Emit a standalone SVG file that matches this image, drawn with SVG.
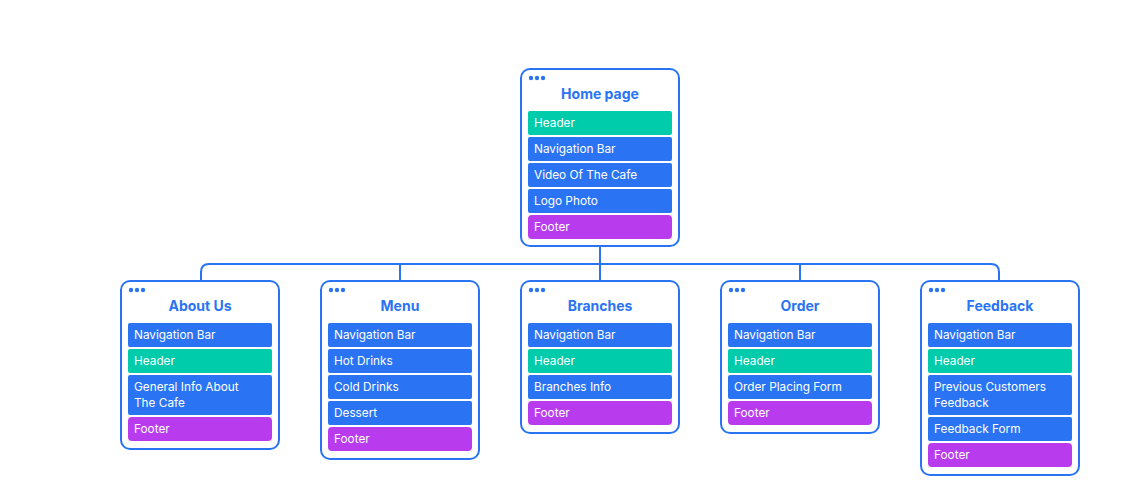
<svg xmlns="http://www.w3.org/2000/svg" width="1136" height="487" viewBox="0 0 1136 487">
<style>
.box{fill:#fff;stroke:#2a74f3;stroke-width:2}
.dot{fill:#2a74f3}
.title{font-family:Inter,"Liberation Sans",sans-serif;font-weight:700;font-size:14px;fill:#2a74f3;text-anchor:middle}
.it{font-family:Inter,"Liberation Sans",sans-serif;font-size:11.8px;fill:#fff}
.b{fill:#2a74f3}
.g{fill:#00cbab}
.p{fill:#b83cee}
.con{fill:none;stroke:#2a74f3;stroke-width:2}
</style>
<defs>
<g id="dots"><circle cx="0" cy="0" r="2.2" class="dot"/><circle cx="6" cy="0" r="2.2" class="dot"/><circle cx="12" cy="0" r="2.2" class="dot"/></g>
</defs>
<g id="connectors">
<path class="con" d="M600 247 V264"/>
<path class="con" d="M201 281 V272 Q201 264 209 264 H991 Q999 264 999 272 V281"/>
<path class="con" d="M400 264 V281"/>
<path class="con" d="M600 264 V281"/>
<path class="con" d="M800 264 V281"/>
</g>
<g id="home">
<rect class="box" x="521" y="69" width="158" height="177" rx="9"/>
<use href="#dots" x="531" y="78"/>
<text class="title" x="600" y="99">Home page</text>
<rect class="g" x="528" y="111" width="144" height="24" rx="2"/><text class="it" x="534" y="127">Header</text>
<rect class="b" x="528" y="137" width="144" height="24" rx="2"/><text class="it" x="534" y="153">Navigation Bar</text>
<rect class="b" x="528" y="163" width="144" height="24" rx="2"/><text class="it" x="534" y="179">Video Of The Cafe</text>
<rect class="b" x="528" y="189" width="144" height="24" rx="2"/><text class="it" x="534" y="205">Logo Photo</text>
<rect class="p" x="528" y="215" width="144" height="24" rx="4"/><text class="it" x="534" y="231">Footer</text>
</g>
<g id="about">
<rect class="box" x="121" y="281" width="158" height="168" rx="9"/>
<use href="#dots" x="131" y="290"/>
<text class="title" x="200" y="311">About Us</text>
<rect class="b" x="128" y="323" width="144" height="24" rx="2"/><text class="it" x="134" y="339">Navigation Bar</text>
<rect class="g" x="128" y="349" width="144" height="24" rx="2"/><text class="it" x="134" y="365">Header</text>
<rect class="b" x="128" y="375" width="144" height="40" rx="2"/><text class="it" x="134" y="391">General Info About</text><text class="it" x="134" y="407">The Cafe</text>
<rect class="p" x="128" y="417" width="144" height="24" rx="4"/><text class="it" x="134" y="433">Footer</text>
</g>
<g id="menu">
<rect class="box" x="321" y="281" width="158" height="178" rx="9"/>
<use href="#dots" x="331" y="290"/>
<text class="title" x="400" y="311">Menu</text>
<rect class="b" x="328" y="323" width="144" height="24" rx="2"/><text class="it" x="334" y="339">Navigation Bar</text>
<rect class="b" x="328" y="349" width="144" height="24" rx="2"/><text class="it" x="334" y="365">Hot Drinks</text>
<rect class="b" x="328" y="375" width="144" height="24" rx="2"/><text class="it" x="334" y="391">Cold Drinks</text>
<rect class="b" x="328" y="401" width="144" height="24" rx="2"/><text class="it" x="334" y="417">Dessert</text>
<rect class="p" x="328" y="427" width="144" height="24" rx="4"/><text class="it" x="334" y="443">Footer</text>
</g>
<g id="branches">
<rect class="box" x="521" y="281" width="158" height="152" rx="9"/>
<use href="#dots" x="531" y="290"/>
<text class="title" x="600" y="311">Branches</text>
<rect class="b" x="528" y="323" width="144" height="24" rx="2"/><text class="it" x="534" y="339">Navigation Bar</text>
<rect class="g" x="528" y="349" width="144" height="24" rx="2"/><text class="it" x="534" y="365">Header</text>
<rect class="b" x="528" y="375" width="144" height="24" rx="2"/><text class="it" x="534" y="391">Branches Info</text>
<rect class="p" x="528" y="401" width="144" height="24" rx="4"/><text class="it" x="534" y="417">Footer</text>
</g>
<g id="order">
<rect class="box" x="721" y="281" width="158" height="152" rx="9"/>
<use href="#dots" x="731" y="290"/>
<text class="title" x="800" y="311">Order</text>
<rect class="b" x="728" y="323" width="144" height="24" rx="2"/><text class="it" x="734" y="339">Navigation Bar</text>
<rect class="g" x="728" y="349" width="144" height="24" rx="2"/><text class="it" x="734" y="365">Header</text>
<rect class="b" x="728" y="375" width="144" height="24" rx="2"/><text class="it" x="734" y="391">Order Placing Form</text>
<rect class="p" x="728" y="401" width="144" height="24" rx="4"/><text class="it" x="734" y="417">Footer</text>
</g>
<g id="feedback">
<rect class="box" x="921" y="281" width="158" height="194" rx="9"/>
<use href="#dots" x="931" y="290"/>
<text class="title" x="1000" y="311">Feedback</text>
<rect class="b" x="928" y="323" width="144" height="24" rx="2"/><text class="it" x="934" y="339">Navigation Bar</text>
<rect class="g" x="928" y="349" width="144" height="24" rx="2"/><text class="it" x="934" y="365">Header</text>
<rect class="b" x="928" y="375" width="144" height="40" rx="2"/><text class="it" x="934" y="391">Previous Customers</text><text class="it" x="934" y="407">Feedback</text>
<rect class="b" x="928" y="417" width="144" height="24" rx="2"/><text class="it" x="934" y="433">Feedback Form</text>
<rect class="p" x="928" y="443" width="144" height="24" rx="4"/><text class="it" x="934" y="459">Footer</text>
</g>
</svg>
